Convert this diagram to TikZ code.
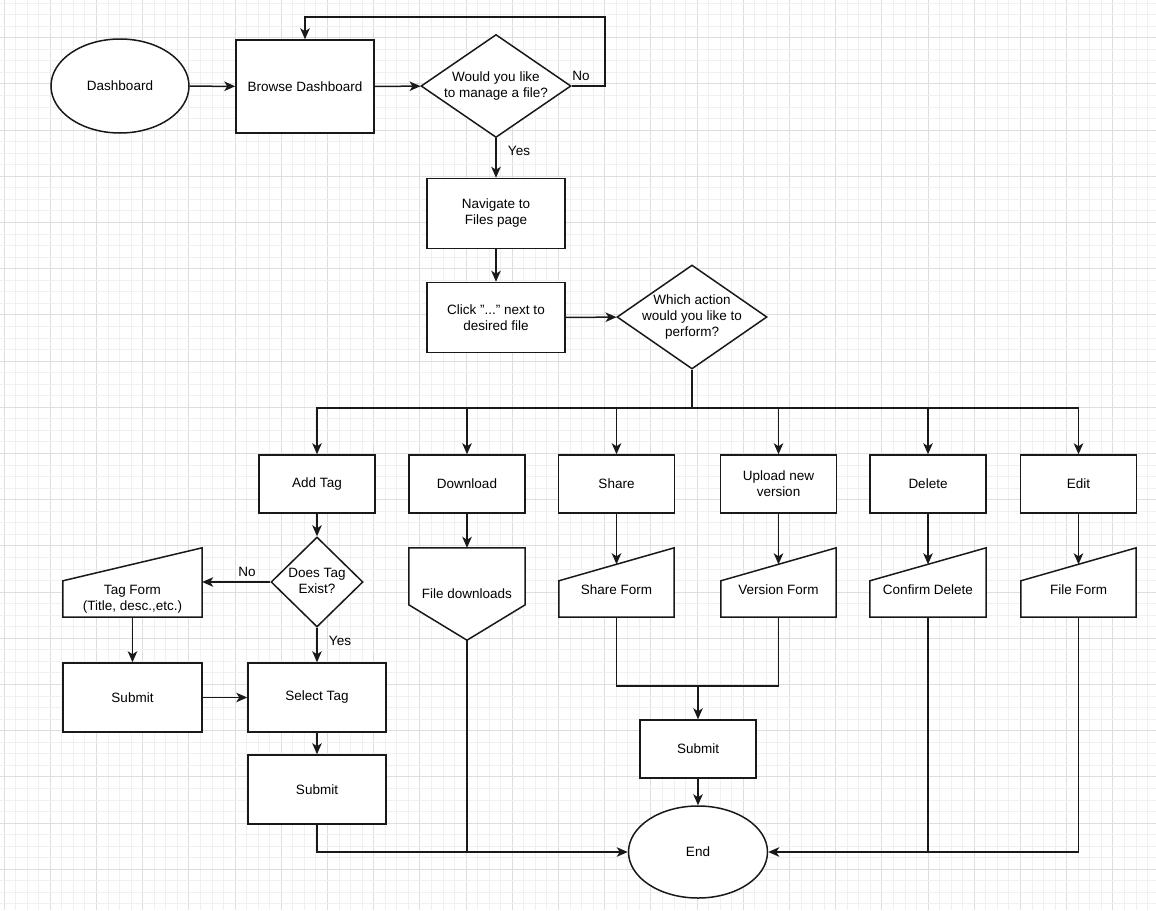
\documentclass[tikz,border=0pt]{standalone}
\usepackage{fontspec}
\setmainfont{Liberation Sans}
\usetikzlibrary{shapes.geometric,arrows.meta,calc}
\pgfdeclarelayer{gridlayer}
\pgfdeclarelayer{bglayer}
\pgfsetlayers{gridlayer,bglayer,main}
\newcommand{\dlines}[1]{\makebox[0pt]{\begin{tabular}{@{}c@{}}#1\end{tabular}}}
\begin{document}
\begin{tikzpicture}[x=1pt,y=-1pt,
  font=\fontsize{13.5}{16}\selectfont,
  gmin/.style={draw=black!6, line width=0.8pt},
  gmaj/.style={draw=black!13, line width=0.8pt},
  shp/.style={draw=black!90, line width=1.5pt, fill=white},
  box/.style={shp, rectangle, align=center, inner sep=2pt},
  term/.style={shp, ellipse, inner sep=0pt},
  dec/.style={shp, diamond, inner sep=0pt},
  holder/.style={rectangle, inner sep=0pt, align=center},
  arr/.style={draw=black!90, line width=1.5pt, -{Stealth[length=11pt,width=9.5pt,inset=3pt]}},
  ln/.style={draw=black!90, line width=1.5pt},
  lbl/.style={inner sep=1pt}]
\useasboundingbox (0,0) rectangle (1156,910);
% grid
\begin{pgfonlayer}{gridlayer}
\begin{scope}
\clip (0,0) rectangle (1156,910);
\fill[white] (0,0) rectangle (1156,910);
\foreach \i in {0,...,100}{
  \pgfmathsetmacro\xx{4+11.55*\i}
  \pgfmathtruncatemacro\m{mod(\i,4)}
  \ifnum\m=0 \draw[gmaj] (\xx,0) -- (\xx,910); \else \draw[gmin] (\xx,0) -- (\xx,910); \fi
}
\foreach \i in {0,...,80}{
  \pgfmathsetmacro\yy{-8.6+11.55*\i}
  \pgfmathtruncatemacro\m{mod(\i,4)}
  \ifnum\m=0 \draw[gmaj] (0,\yy) -- (1156,\yy); \else \draw[gmin] (0,\yy) -- (1156,\yy); \fi
}
\end{scope}
\end{pgfonlayer}

% top part
\node[term, minimum width=138pt, minimum height=94pt] (dash) at (120,86) {Dashboard};
\node[box, minimum width=138pt, minimum height=93pt] (browse) at (305,86.5) {Browse Dashboard};
\node[dec, minimum width=150pt, minimum height=103pt] (q1) at (496,86) {\dlines{Would you like\\to manage a file?}};
\node[box, minimum width=138pt, minimum height=70pt] (nav) at (496,213.5) {Navigate to\\Files page};
\node[box, minimum width=138pt, minimum height=70pt] (click) at (496,317.5) {Click {\char34}...{\char34} next to\\desired file};
\node[dec, minimum width=150pt, minimum height=104pt] (q2) at (692,317) {\dlines{Which action\\would you like to\\perform?}};
\coordinate (j) at (692,408);

% action row
\node[box, minimum width=116pt, minimum height=58pt] (addtag) at (317,484) {Add Tag};
\node[box, minimum width=116pt, minimum height=58pt] (download) at (467,484) {Download};
\node[box, minimum width=116pt, minimum height=58pt] (share) at (616.5,484) {Share};
\node[box, minimum width=116pt, minimum height=58pt] (upload) at (778.5,484) {Upload new\\version};
\node[box, minimum width=116pt, minimum height=58pt] (delete) at (928,484) {Delete};
\node[box, minimum width=116pt, minimum height=58pt] (edit) at (1078.5,484) {Edit};

% second row
\node[dec, minimum width=92pt, minimum height=90pt] (q3) at (317,582) {\dlines{Does Tag\\Exist?}};
\node[holder, minimum width=139pt, minimum height=69pt, label={[align=center,yshift=-16.5pt]center:Tag Form\\(Title, desc.,etc.)}] (tf) at (132.5,582.5) {};
\node[holder, minimum width=116pt, minimum height=92pt] (fd) at (467,594) {File downloads};
\node[holder, minimum width=115pt, minimum height=69pt, label={[yshift=-7.5pt]center:Share Form}] (sf) at (616.5,582.5) {};
\node[holder, minimum width=115pt, minimum height=69pt, label={[yshift=-7.5pt]center:Version Form}] (vf) at (778.5,582.5) {};
\node[holder, minimum width=116pt, minimum height=69pt, label={[yshift=-7.5pt]center:Confirm Delete}] (cd) at (928,582.5) {};
\node[holder, minimum width=115pt, minimum height=69pt, label={[yshift=-7.5pt]center:File Form}] (ff) at (1078.5,582.5) {};

\begin{pgfonlayer}{bglayer}
\foreach \n in {tf,sf,vf,cd,ff}{
  \draw[shp] (\n.south west) -- (\n.south east) -- (\n.north east) -- ($(\n.north west)+(0,33)$) -- cycle;
}
\draw[shp] (fd.north west) -- (fd.north east) -- ($(fd.north east)+(0,57)$) -- (fd.south) -- ($(fd.north west)+(0,57)$) -- cycle;
\end{pgfonlayer}

% lower part
\node[box, minimum width=139pt, minimum height=69pt] (sub1) at (132.5,697.5) {Submit};
\node[box, minimum width=138pt, minimum height=69pt] (seltag) at (317,697.5) {Select Tag};
\node[box, minimum width=138pt, minimum height=69pt] (sub2) at (317,789.5) {Submit};
\node[box, minimum width=116pt, minimum height=58pt] (sub3) at (698,749) {Submit};
\node[term, minimum width=139pt, minimum height=92pt] (end) at (698,852) {End};
\coordinate (j2) at (698,686);
\coordinate (loopR) at (605,17);

% connectors
\draw[arr] (dash) -- (browse);
\draw[arr] (browse) -- (q1);
\draw[arr] (q1.east) -| (loopR) -| (browse.north);
\node[lbl] (lno1) at (581,76) {No};
\draw[arr] (q1) -- (nav);
\node[lbl] (lyes1) at (519,151) {Yes};
\draw[arr] (nav) -- (click);
\draw[arr] (click) -- (q2);
\draw[ln] (q2.south) -- (j);
\foreach \t in {addtag,download,share,upload,delete,edit}{
  \draw[arr] (j) -| (\t.north);
}
\draw[arr] (addtag) -- (q3);
\draw[arr] (q3.west) -- (q3.west -| tf.east);
\node[lbl] (lno2) at (247,572) {No};
\draw[arr] (q3) -- (seltag);
\node[lbl] (lyes2) at (340,641) {Yes};
\draw[arr] (download) -- (fd.north);
\foreach \a/\b in {share/sf,upload/vf,delete/cd,edit/ff}{
  \draw[arr] (\a.south) -- ($(\b.north)+(0,16.5)$);
}
\draw[arr] (tf.south) -- (sub1.north);
\draw[arr] (sub1) -- (seltag);
\draw[arr] (seltag) -- (sub2);
\draw[ln] (sf.south) |- (j2) -| (vf.south);
\draw[arr] (j2) -- (sub3);
\draw[arr] (sub3) -- (end);
\draw[arr] (sub2.south) |- (end.west);
\draw[ln] (fd.south) -- (fd.south |- end.west);
\draw[arr] (ff.south) |- (end.east);
\draw[ln] (cd.south) -- (cd.south |- end.east);
\end{tikzpicture}
\end{document}
